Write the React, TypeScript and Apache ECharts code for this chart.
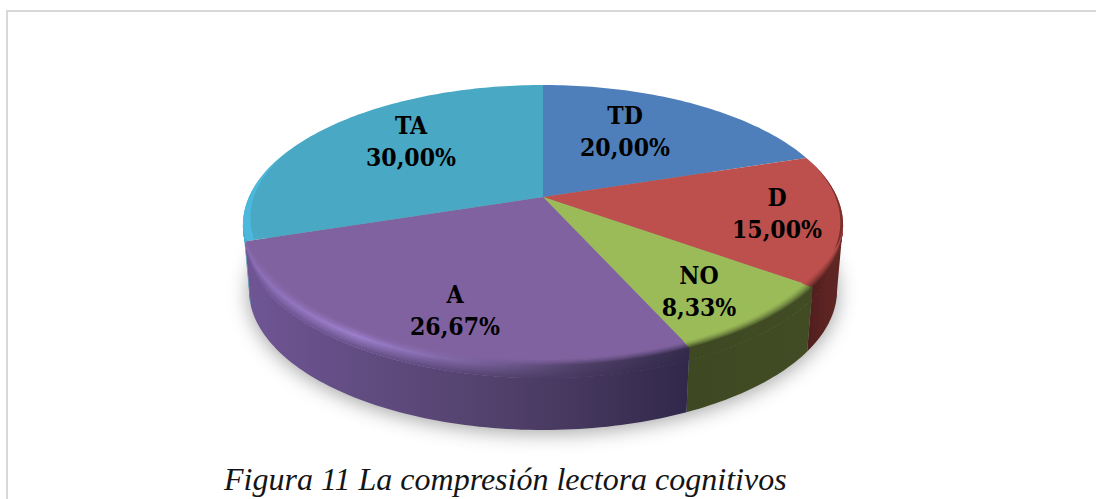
import React, { useEffect, useRef } from "react";
import * as echarts from "echarts";

const categories = ["TD", "D", "NO", "A", "TA"];
const values = [20.0, 15.0, 8.33, 26.67, 30.0];
const valueLabels = ["20,00%", "15,00%", "8,33%", "26,67%", "30,00%"];
const caption = "Figura 11 La compresión lectora cognitivos";

const topColors = ["#4f7fbb", "#bd4f4c", "#9bbb59", "#8062a0", "#49a8c3"];
// rim colours from left to right along the slice's visible arc
const rimColors = [
  ["#4f7fbb", "#4f7fbb"],
  ["#4e1e1d", "#5c2422", "#6a2a28"],
  ["#3e4822", "#414c24"],
  ["#8a6db5", "#9c7ecb", "#7c63a0", "#4f4068", "#352b4b"],
  ["#4cb8dc", "#4cb8dc"],
];
const sideColors = [
  ["#3a5f8c", "#3a5f8c"],
  ["#4e1e1d", "#5c2422", "#5e2523"],
  ["#3e4822", "#414c24"],
  ["#6f5595", "#5e4a7c", "#4c3c64", "#30284a"],
  ["#2f8aa6", "#2f8aa6"],
];
const labelCentres = [
  [625, 131],
  [777, 213],
  [699, 291],
  [455, 310],
  [411, 141],
];

// projection of the pie's unit disc to screen (perspective)
const CX = 543;
const CY = 197;
const A = 294;
const B = 134.4;
const K = 0.2;
const DEPTH = 65;
const BOTTOM_SCALE = 0.98;
const DEG = Math.PI / 180;
const EDGE_LO = 101.5 * DEG;
const EDGE_HI = 258.5 * DEG;
const INNER_R = 0.965;
const WALL_BAND = 13;
const BANDS = 12;

function project(theta: number, r = 1): [number, number] {
  const u = Math.sin(theta) * r;
  const v = -Math.cos(theta) * r;
  const w = 1 - K * v;
  return [CX + (A * u) / w, CY + (B * v) / w];
}
function angleSteps(a0: number, a1: number): number[] {
  const n = Math.max(2, Math.ceil(Math.abs(a1 - a0) / 0.02));
  const out: number[] = [];
  for (let i = 0; i <= n; i++) out.push(a0 + ((a1 - a0) * i) / n);
  return out;
}
function arcPoints(a0: number, a1: number, r = 1): number[][] {
  return angleSteps(a0, a1).map((t) => project(t, r));
}
function down(p: number[], d: number): number[] {
  const s = 1 - (1 - BOTTOM_SCALE) * (d / DEPTH);
  return [CX + (p[0] - CX) * s, p[1] + d];
}
// the bevel fades out towards the ends of the visible rim
function taper(t: number): number {
  const x = Math.min(1, Math.min(t - EDGE_LO, EDGE_HI - t) / 0.45);
  const c = Math.max(0, x);
  return c * c * (3 - 2 * c);
}
function hex(c: string): number[] {
  return [1, 3, 5].map((i) => parseInt(c.slice(i, i + 2), 16));
}
function mix(a: string, b: string, t: number): string {
  const x = hex(a);
  const y = hex(b);
  return (
    "#" +
    x
      .map((q, i) =>
        Math.round(q + (y[i] - q) * t)
          .toString(16)
          .padStart(2, "0")
      )
      .join("")
  );
}
function sample(cols: string[], f: number): string {
  const p = Math.min(0.9999, Math.max(0, f)) * (cols.length - 1);
  const i = Math.floor(p);
  return mix(cols[i], cols[i + 1], p - i);
}
function hGrad(colorAt: (f: number) => string) {
  const stops = [];
  for (let i = 0; i <= 8; i++) stops.push({ offset: i / 8, color: colorAt(i / 8) });
  return { type: "linear", x: 0, y: 0, x2: 1, y2: 0, colorStops: stops };
}

const total = values.reduce((s, v) => s + v, 0);
function sliceAngles(i: number): [number, number] {
  let before = 0;
  for (let j = 0; j < i; j++) before += values[j];
  return [
    (before / total) * Math.PI * 2,
    ((before + values[i]) / total) * Math.PI * 2,
  ];
}

function renderShadow(_p: any, api: any) {
  api.value(0);
  const pts = arcPoints(0, Math.PI * 2).map((p) => down(p, DEPTH - 3));
  return {
    type: "polygon",
    shape: { points: pts },
    style: {
      fill: "#9a9a9a",
      shadowBlur: 20,
      shadowColor: "rgba(0,0,0,0.36)",
      shadowOffsetY: 6,
    },
    silent: true,
  };
}

function renderTop(p: any, api: any) {
  const i = p.dataIndex;
  api.value(0);
  const [a0, a1] = sliceAngles(i);
  return {
    type: "polygon",
    shape: { points: [[CX, CY], ...arcPoints(a0, a1)] },
    style: { fill: topColors[i] },
  };
}

// thin edge highlights running past the visible wall's ends
function crescent(a0: number, a1: number, max: number, fill: string) {
  const steps = angleSteps(a0, a1);
  const outer = steps.map((t) => project(t));
  const inner = steps
    .map((t, n) => project(t, 1 - max * (n / (steps.length - 1))))
    .reverse();
  return { type: "polygon", shape: { points: outer.concat(inner) }, style: { fill } };
}

function renderWall(p: any, api: any) {
  const i = p.dataIndex;
  api.value(0);
  const [a0, a1] = sliceAngles(i);
  const lo = Math.max(a0, EDGE_LO);
  const hi = Math.min(a1, EDGE_HI);
  if (hi <= lo) return { type: "group", children: [] };
  const steps = angleSteps(lo, hi);
  const arc = steps.map((t) => project(t));
  const bot = arc.map((q) => down(q, DEPTH)).reverse();
  const rim = rimColors[i];
  const side = sideColors[i];
  const top = topColors[i];
  const children: any[] = [
    {
      type: "polygon",
      shape: { points: arc.concat(bot) },
      style: { fill: hGrad((f) => sample(side, f)) },
    },
  ];
  if (i === 1) children.push(crescent(a0, 125 * DEG, 0.016, "#7a302e"));
  if (i === 4) children.push(crescent(292 * DEG, a0, 0.03, "#4cb8dc"));
  // soft bevel: bands going from just inside the top face onto the side wall
  for (let b = 0; b <= BANDS; b++) {
    const t = b / BANDS;
    const start = steps.map((a, n) => {
      const tp = taper(a);
      if (t < 0.5) {
        return project(a, 1 - (1 - INNER_R) * (1 - t / 0.5) * tp);
      }
      return down(arc[n], ((WALL_BAND * (t - 0.5)) / 0.5) * tp);
    });
    const end = steps
      .map((a, n) => down(arc[n], WALL_BAND * taper(a)))
      .reverse();
    const colorAt = (f: number) => {
      const r = sample(rim, f);
      const s = sample(side, f);
      return t < 0.5
        ? mix(top, r, Math.pow(t / 0.5, 1.5))
        : mix(r, s, (t - 0.5) / 0.5);
    };
    children.push({
      type: "polygon",
      shape: { points: start.concat(end) },
      style: { fill: hGrad(colorAt) },
    });
  }
  return { type: "group", children };
}

function renderLabel(p: any, api: any) {
  const i = p.dataIndex;
  api.value(0);
  return {
    type: "text",
    x: labelCentres[i][0],
    y: labelCentres[i][1],
    style: {
      text: categories[i] + "\n" + valueLabels[i],
      fill: "#000",
      font: 'bold 24.5px "DejaVu Serif Condensed", "DejaVu Serif"',
      align: "center",
      verticalAlign: "middle",
      lineHeight: 32,
    },
  };
}

const rows = values.map((v, i) => ({ name: categories[i], value: [v] }));

export default function App() {
  const ref = useRef<HTMLDivElement>(null);
  useEffect(() => {
    document.body.style.margin = "0";
    const chart = echarts.init(ref.current!, undefined, { renderer: "svg" });
    const custom = (name: string, renderItem: any, data: any[], z: number) => ({
      type: "custom",
      name,
      coordinateSystem: "none",
      renderItem,
      data,
      z,
      silent: true,
      clip: false,
    });
    chart.setOption({
      animation: false,
      backgroundColor: "#fff",
      title: {
        text: caption,
        left: 224,
        top: 463,
        padding: 0,
        textStyle: {
          fontFamily: '"Liberation Serif"',
          fontStyle: "italic",
          fontWeight: "normal",
          fontSize: 32,
          color: "#151515",
        },
      },
      graphic: [
        {
          type: "line",
          shape: { x1: 6, y1: 11, x2: 1096, y2: 11 },
          style: { stroke: "#d9d9d9", lineWidth: 2 },
        },
        {
          type: "line",
          shape: { x1: 7, y1: 10, x2: 7, y2: 499 },
          style: { stroke: "#d9d9d9", lineWidth: 2 },
        },
      ],
      series: [
        custom("shadow", renderShadow, [rows[0]], 1),
        custom("top", renderTop, rows, 3),
        custom("wall", renderWall, rows, 4),
        custom("labels", renderLabel, rows, 5),
      ],
    });
    return () => chart.dispose();
  }, []);
  return (
    <div
      ref={ref}
      style={{ position: "fixed", left: 0, top: 0, width: 1096, height: 499 }}
    />
  );
}
